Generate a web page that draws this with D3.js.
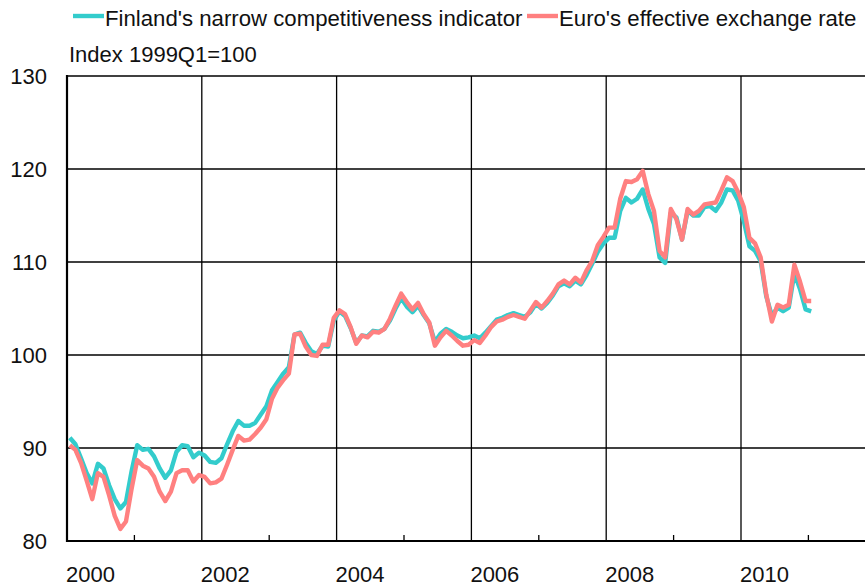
<!DOCTYPE html>
<html>
  <head>
    <meta charset="UTF-8">
    <title>Finland's competitiveness indicator vs euro effective exchange rate</title>
    <style>
      body { margin: 0; background: #fff; overflow: hidden; }
      svg { display: block; font-family: "Liberation Sans", Arial, sans-serif; }
    </style>
  </head>
  <body>

    <svg class="chart"></svg>

    <script src="https://d3js.org/d3.v7.min.js"></script>
    <script>

/* DATA - monthly, Jan 2000 to Jan 2011, index 1999Q1=100 */

var firstYear = 2000;

var seriesNames = ["Finland's narrow competitiveness indicator", "Euro's effective exchange rate"];

var finland = [
  91.1, 90.4, 88.9, 87.3, 86.2, 88.3, 87.8, 86.0, 84.5, 83.5, 84.2, 87.5,       // 2000
  90.3, 89.8, 89.9, 89.1, 87.8, 86.8, 87.6, 89.6, 90.3, 90.2, 89.0, 89.5,       // 2001
  89.2, 88.5, 88.4, 88.9, 90.4, 91.8, 92.9, 92.4, 92.4, 92.7, 93.6, 94.5,       // 2002
  96.2, 97.1, 98.0, 98.7, 102.2, 102.4, 101.3, 100.4, 100.1, 101.0, 100.9, 103.7, // 2003
  104.7, 104.2, 102.9, 101.3, 102.1, 102.0, 102.6, 102.5, 102.8, 103.7, 105.0, 106.1, // 2004
  105.2, 104.6, 105.3, 104.3, 103.4, 101.4, 102.3, 102.8, 102.5, 102.1, 101.8, 101.9, // 2005
  102.1, 101.8, 102.4, 103.1, 103.8, 104.0, 104.3, 104.5, 104.3, 104.1, 104.6, 105.5, // 2006
  105.0, 105.6, 106.4, 107.4, 107.7, 107.4, 108.0, 107.6, 108.6, 109.8, 111.1, 112.0, // 2007
  112.6, 112.6, 115.5, 116.9, 116.4, 116.8, 117.8, 115.7, 114.1, 110.5, 109.9, 115.3, // 2008
  114.8, 112.4, 115.5, 115.0, 115.0, 115.9, 116.0, 115.5, 116.4, 117.8, 117.7, 116.6, // 2009
  114.4, 111.7, 111.2, 110.1, 106.3, 104.2, 105.1, 104.7, 105.1, 108.8, 107.1, 104.9, // 2010
  104.7                                                                          // 2011
];

var euro = [
  90.3, 89.8, 88.4, 86.5, 84.5, 87.3, 86.9, 84.9, 82.7, 81.3, 82.1, 85.6,       // 2000
  88.7, 88.1, 87.8, 86.9, 85.3, 84.3, 85.3, 87.3, 87.6, 87.6, 86.4, 87.1,       // 2001
  86.9, 86.2, 86.3, 86.7, 88.2, 89.8, 91.3, 90.8, 90.9, 91.5, 92.2, 93.1,       // 2002
  95.3, 96.5, 97.3, 98.0, 102.2, 102.3, 100.9, 100.0, 99.9, 101.1, 101.1, 104.0, // 2003
  104.8, 104.4, 103.0, 101.2, 102.1, 101.9, 102.5, 102.4, 102.8, 103.9, 105.3, 106.6, // 2004
  105.7, 104.9, 105.6, 104.4, 103.5, 101.0, 101.9, 102.6, 102.1, 101.5, 101.0, 101.1, // 2005
  101.6, 101.3, 102.1, 103.0, 103.6, 103.8, 104.1, 104.3, 104.1, 103.9, 104.8, 105.7, // 2006
  105.1, 105.8, 106.6, 107.6, 108.0, 107.6, 108.3, 107.8, 109.1, 110.1, 111.8, 112.7, // 2007
  113.7, 113.7, 116.8, 118.7, 118.6, 118.9, 119.8, 117.3, 115.5, 111.2, 110.5, 115.7, // 2008
  114.6, 112.4, 115.7, 115.1, 115.5, 116.2, 116.3, 116.4, 117.7, 119.1, 118.7, 117.5, // 2009
  115.9, 112.6, 112.0, 110.5, 106.5, 103.6, 105.4, 105.1, 105.4, 109.7, 107.9, 105.8, // 2010
  105.8                                                                          // 2011
];

var yTicks = [80, 90, 100, 110, 120, 130];
var yearLabels = [2000, 2002, 2004, 2006, 2008, 2010];
var minorYears = [2001, 2003, 2005, 2007, 2009, 2011];
var unitLabel = "Index 1999Q1=100";

/* LAYOUT */

var width = 865, height = 588;
var plotLeft = 67, plotTop = 76, plotBottom = 541;
var colors = ["#33cccc", "#ff8080"];

var svg = d3.select("svg")
  .attr("width", width)
  .attr("height", height);

// plot runs to 2012, right part is cut off by the window edge
var x = d3.scaleLinear().domain([2000, 2012]).range([plotLeft, plotLeft + 12 * 67.4]);
var y = d3.scaleLinear().domain([80, 130]).range([plotBottom, plotTop]);

// horizontal grid lines (130 works as the top border)
svg.append("g")
  .selectAll("line")
  .data(yTicks.slice(1))
  .enter().append("line")
    .attr("x1", plotLeft).attr("x2", width)
    .attr("y1", function(d) { return y(d); })
    .attr("y2", function(d) { return y(d); })
    .attr("stroke", "#000")
    .attr("stroke-width", 1.3);

// vertical grid lines on even years
svg.append("g")
  .selectAll("line")
  .data(yearLabels.slice(1))
  .enter().append("line")
    .attr("x1", function(d) { return x(d); })
    .attr("x2", function(d) { return x(d); })
    .attr("y1", plotTop).attr("y2", plotBottom)
    .attr("stroke", "#000")
    .attr("stroke-width", 1.3);

// small ticks on odd years
svg.append("g")
  .selectAll("line")
  .data(minorYears)
  .enter().append("line")
    .attr("x1", function(d) { return x(d); })
    .attr("x2", function(d) { return x(d); })
    .attr("y1", plotBottom - 6).attr("y2", plotBottom)
    .attr("stroke", "#000")
    .attr("stroke-width", 1.3);

// axes
svg.append("line")
  .attr("x1", plotLeft).attr("x2", plotLeft)
  .attr("y1", plotTop - 1).attr("y2", plotBottom + 1)
  .attr("stroke", "#000").attr("stroke-width", 2.2);
svg.append("line")
  .attr("x1", plotLeft - 1).attr("x2", width)
  .attr("y1", plotBottom).attr("y2", plotBottom)
  .attr("stroke", "#000").attr("stroke-width", 2.2);

// y labels
svg.append("g")
  .selectAll("text")
  .data(yTicks)
  .enter().append("text")
    .attr("x", 47)
    .attr("y", function(d) { return y(d); })
    .attr("dy", "0.36em")
    .attr("text-anchor", "end")
    .attr("font-size", 22)
    .attr("fill", "#111")
    .text(function(d) { return d; });

// x labels, start at the grid line
svg.append("g")
  .selectAll("text")
  .data(yearLabels)
  .enter().append("text")
    .attr("x", function(d) { return x(d) - 1; })
    .attr("y", 582)
    .attr("font-size", 22)
    .attr("fill", "#111")
    .text(function(d) { return d; });

svg.append("text")
  .attr("x", 69)
  .attr("y", 62)
  .attr("font-size", 22)
  .attr("fill", "#111")
  .text(unitLabel);

/* LINES */

var line = d3.line()
  .x(function(d, i) { return x(firstYear + (i + 0.5) / 12); })
  .y(function(d) { return y(d); });

[finland, euro].forEach(function(series, k) {
  svg.append("path")
    .datum(series)
    .attr("fill", "none")
    .attr("stroke", colors[k])
    .attr("stroke-width", 4.4)
    .attr("stroke-linejoin", "round")
    .attr("d", line);
});

/* LEGEND */

var legendPos = [73, 527];
seriesNames.forEach(function(name, k) {
  var g = svg.append("g").attr("transform", "translate(" + legendPos[k] + ",0)");
  g.append("line")
    .attr("x1", 0).attr("x2", 31)
    .attr("y1", 16).attr("y2", 16)
    .attr("stroke", colors[k])
    .attr("stroke-width", 4.4);
  g.append("text")
    .attr("x", 32)
    .attr("y", 26)
    .attr("font-size", 22.2)
    .attr("fill", "#111")
    .text(name);
});

    </script>
  </body>
</html>
